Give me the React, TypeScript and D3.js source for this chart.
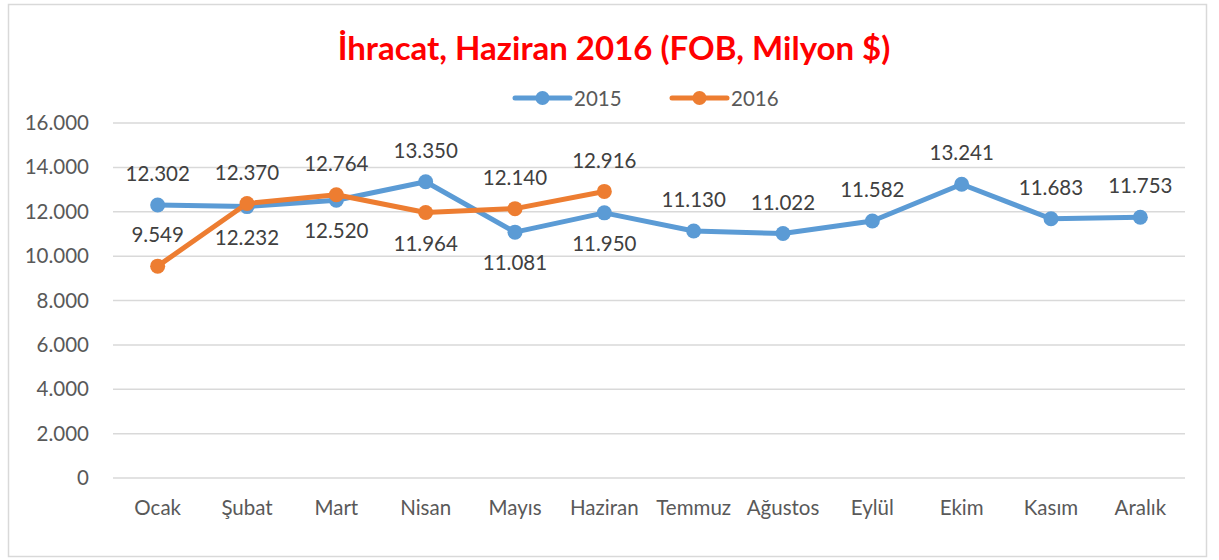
import { useEffect, useRef } from "react";
import * as d3 from "d3";

const months = ["Ocak", "Şubat", "Mart", "Nisan", "Mayıs", "Haziran", "Temmuz", "Ağustos", "Eylül", "Ekim", "Kasım", "Aralık"];
const values2015 = [12302, 12232, 12520, 13350, 11081, 11950, 11130, 11022, 11582, 13241, 11683, 11753];
const values2016 = [9549, 12370, 12764, 11964, 12140, 12916];
const yTicks = [0, 2000, 4000, 6000, 8000, 10000, 12000, 14000, 16000];
const seriesNames = ["2015", "2016"];

// label above (-1) or below (+1) the point
const place2015 = [-1, 1, 1, -1, 1, 1, -1, -1, -1, -1, -1, -1];
const place2016 = [-1, -1, -1, 1, -1, -1];

const fmt = (v: number) => d3.format(",")(v).replace(/,/g, ".");

export default function App() {
  const svgRef = useRef<SVGSVGElement | null>(null);

  useEffect(() => {
    if (!svgRef.current) return;
    const svg = d3.select(svgRef.current);
    svg.selectAll("*").remove();

    const width = 1219;
    const height = 560;
    const font = "Lato, 'Open Sans', sans-serif";
    const blue = "#5B9BD5";
    const orange = "#ED7D31";
    const fs = 20.5;

    svg.attr("width", width).attr("height", height);

    svg.append("rect")
      .attr("x", 8.5).attr("y", 4.5).attr("width", 1198).attr("height", 552)
      .attr("fill", "#fff").attr("stroke", "#D9D9D9").attr("stroke-width", 1.5);

    const x = d3.scaleBand().domain(months).range([113, 1185]);
    const cx = (i: number) => (x(months[i]) as number) + x.bandwidth() / 2;
    const y = d3.scaleLinear().domain([0, 16000]).range([478, 123]);

    // title
    svg.append("text")
      .attr("x", 614).attr("y", 60)
      .attr("text-anchor", "middle")
      .attr("font-family", font).attr("font-weight", 700).attr("font-size", 33)
      .attr("fill", "#FF0000")
      .text("İhracat, Haziran 2016 (FOB, Milyon $)");

    // legend
    const legend = [{ name: seriesNames[0], color: blue, x: 515 }, { name: seriesNames[1], color: orange, x: 672 }];
    legend.forEach((l) => {
      const g = svg.append("g").attr("transform", `translate(${l.x},98)`);
      g.append("line").attr("x1", 0).attr("x2", 55).attr("stroke", l.color).attr("stroke-width", 5).attr("stroke-linecap", "round");
      g.append("circle").attr("cx", 27.5).attr("r", 7).attr("fill", l.color);
      g.append("text").attr("x", 59).attr("y", 7.5).attr("font-family", font).attr("font-size", fs).attr("fill", "#595959").text(l.name);
    });

    // grid
    svg.append("g")
      .selectAll("line")
      .data(yTicks)
      .join("line")
      .attr("x1", 113).attr("x2", 1185)
      .attr("y1", (d) => y(d)).attr("y2", (d) => y(d))
      .attr("stroke", "#D9D9D9").attr("stroke-width", 1.5);

    // y axis
    svg.append("g")
      .attr("transform", "translate(89,0)")
      .call(d3.axisLeft(y).tickValues(yTicks).tickSize(0).tickPadding(0).tickFormat((d) => fmt(+d)))
      .call((sel) => sel.select(".domain").remove())
      .call((sel) => sel.selectAll("text").attr("fill", "#595959").attr("font-size", fs).attr("font-family", font));

    // x axis
    svg.append("g")
      .attr("transform", "translate(0,478)")
      .call(d3.axisBottom(x).tickSize(0).tickPadding(22))
      .call((sel) => sel.select(".domain").remove())
      .call((sel) => sel.selectAll("text").attr("fill", "#595959").attr("font-size", fs).attr("font-family", font));

    const line = d3.line<number>().x((_, i) => cx(i)).y((d) => y(d));

    const series = [
      { values: values2015, color: blue, place: place2015 },
      { values: values2016, color: orange, place: place2016 },
    ];

    series.forEach((s) => {
      svg.append("path").datum(s.values).attr("d", line)
        .attr("fill", "none").attr("stroke", s.color).attr("stroke-width", 5)
        .attr("stroke-linejoin", "round").attr("stroke-linecap", "round");
      svg.append("g").selectAll("circle").data(s.values).join("circle")
        .attr("cx", (_, i) => cx(i)).attr("cy", (d) => y(d)).attr("r", 7.5).attr("fill", s.color);
    });

    series.forEach((s) => {
      svg.append("g").selectAll("text").data(s.values).join("text")
        .attr("x", (_, i) => cx(i))
        .attr("y", (d, i) => y(d) + s.place[i] * 31)
        .attr("dy", "0.35em")
        .attr("text-anchor", "middle")
        .attr("font-family", font).attr("font-size", fs).attr("fill", "#404040")
        .text((d) => fmt(d));
    });
  }, []);

  return <svg ref={svgRef} style={{ position: "absolute", left: 0, top: 0 }} />;
}
